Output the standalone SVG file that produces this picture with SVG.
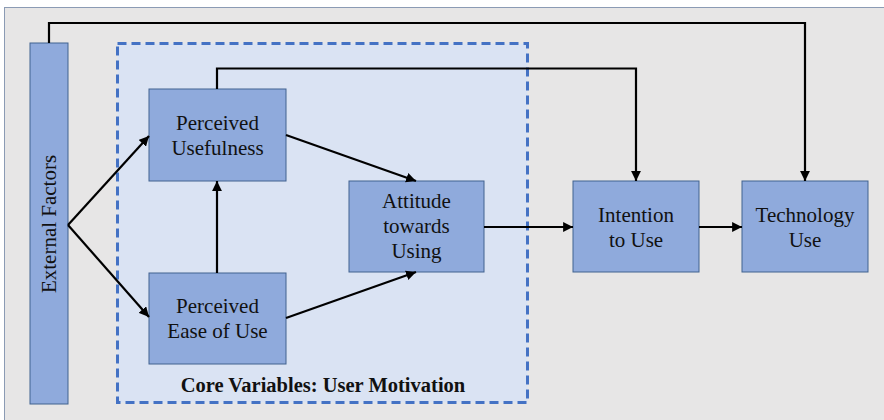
<svg xmlns="http://www.w3.org/2000/svg" width="884" height="420" viewBox="0 0 884 420">
<defs>
<style>
.node{fill:#8faadc;stroke:#41628f;stroke-width:1}
.t{fill:#111;text-anchor:middle}
.c{fill:none;stroke:#000;stroke-width:2.2}
</style>
<marker id="ah" viewBox="0 0 10 10" refX="10" refY="5" markerWidth="4.5" markerHeight="4.5" orient="auto" markerUnits="strokeWidth">
<path d="M0,0 L10,5 L0,10 z" fill="#000"/>
</marker>
</defs>
<rect x="0" y="0" width="884" height="420" fill="#fff"/>
<rect x="4.5" y="7.5" width="880" height="414" fill="#e7e6e6" stroke="#8b9bb4" stroke-width="1"/>
<g id="core-group">
<rect x="117.5" y="43.5" width="410" height="359" fill="#dae3f3" stroke="#4472c4" stroke-width="3" stroke-dasharray="9,5"/>
<text class="t" x="323" y="392" font-weight="bold" font-family="Liberation Serif, serif" font-size="20.5">Core Variables: User Motivation</text>
</g>
<g id="external-factors">
<rect class="node" x="30" y="43" width="38" height="361"/>
<text class="t" font-family="Liberation Serif, serif" font-size="21" transform="translate(56,224) rotate(-90)">External Factors</text>
</g>
<g id="perceived-usefulness">
<rect class="node" x="149" y="89" width="137" height="92"/>
<text class="t" font-family="Liberation Serif, serif" font-size="21" x="217.5" y="130">Perceived</text>
<text class="t" font-family="Liberation Serif, serif" font-size="21" x="217.5" y="155">Usefulness</text>
</g>
<g id="perceived-ease-of-use">
<rect class="node" x="149" y="273" width="137" height="91"/>
<text class="t" font-family="Liberation Serif, serif" font-size="21" x="217.5" y="313">Perceived</text>
<text class="t" font-family="Liberation Serif, serif" font-size="21" x="217.5" y="338">Ease of Use</text>
</g>
<g id="attitude">
<rect class="node" x="349" y="181" width="135" height="91"/>
<text class="t" font-family="Liberation Serif, serif" font-size="21" x="416.5" y="208">Attitude</text>
<text class="t" font-family="Liberation Serif, serif" font-size="21" x="416.5" y="233">towards</text>
<text class="t" font-family="Liberation Serif, serif" font-size="21" x="416.5" y="258">Using</text>
</g>
<g id="intention">
<rect class="node" x="573" y="181" width="126" height="91"/>
<text class="t" font-family="Liberation Serif, serif" font-size="21" x="636" y="222">Intention</text>
<text class="t" font-family="Liberation Serif, serif" font-size="21" x="636" y="247">to Use</text>
</g>
<g id="technology-use">
<rect class="node" x="742" y="181" width="126" height="91"/>
<text class="t" font-family="Liberation Serif, serif" font-size="21" x="805" y="222">Technology</text>
<text class="t" font-family="Liberation Serif, serif" font-size="21" x="805" y="247">Use</text>
</g>
<g id="connectors">
<path class="c" d="M68,225 L149,136" marker-end="url(#ah)"/>
<path class="c" d="M68,225 L149,317" marker-end="url(#ah)"/>
<path class="c" d="M217,273 L217,181" marker-end="url(#ah)"/>
<path class="c" d="M286,135 L416,181" marker-end="url(#ah)"/>
<path class="c" d="M286,318 L416,272" marker-end="url(#ah)"/>
<path class="c" d="M484,227 L573,227" marker-end="url(#ah)"/>
<path class="c" d="M699,227 L742,227" marker-end="url(#ah)"/>
<path class="c" d="M217,89 L217,68.5 L636,68.5 L636,181" marker-end="url(#ah)"/>
<path class="c" d="M49,43 L49,23 L805,23 L805,181" marker-end="url(#ah)"/>
</g>
</svg>
